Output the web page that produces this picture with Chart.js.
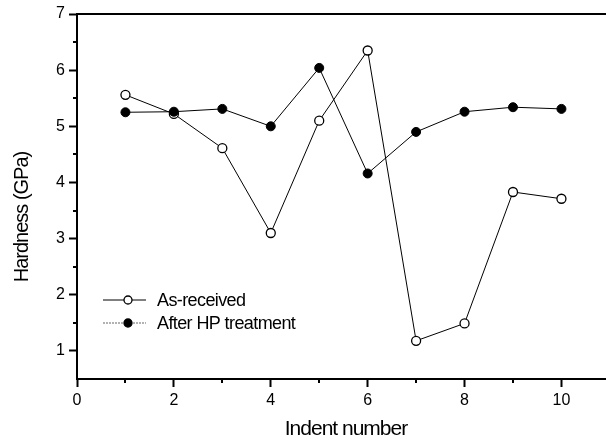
<!DOCTYPE html>
<html>
<head>
<meta charset="utf-8">
<script src="https://cdn.jsdelivr.net/npm/chart.js@4.4.1/dist/chart.umd.min.js"></script>
<style>
  html, body { margin: 0; padding: 0; background: #fff; }
  canvas { display: block; }
</style>
</head>
<body>
<canvas id="hardChart" width="606" height="443"></canvas>
<script>
// данные графика
const indents = [1, 2, 3, 4, 5, 6, 7, 8, 9, 10];
const asReceived = [5.56, 5.22, 4.61, 3.10, 5.10, 6.35, 1.18, 1.49, 3.83, 3.71];
const afterHP = [5.25, 5.26, 5.31, 5.00, 6.04, 4.16, 4.90, 5.26, 5.34, 5.31];
const xTicks = [0, 2, 4, 6, 8, 10];
const xMinor = [1, 3, 5, 7, 9];
const yTicks = [1, 2, 3, 4, 5, 6, 7];
const yMinor = [1.5, 2.5, 3.5, 4.5, 5.5, 6.5];
const seriesNames = ['As-received', 'After HP treatment'];
const xTitle = 'Indent number';
const yTitle = 'Hardness (GPa)';

const FONT = '"Liberation Sans", Arial, sans-serif';

// рамка сверху, мелкие засечки, подписи осей, легенда
const decor = {
  id: 'decor',
  afterDraw(chart) {
    const ctx = chart.ctx;
    const a = chart.chartArea;
    const xs = chart.scales.x, ys = chart.scales.y;
    ctx.save();
    ctx.strokeStyle = '#000';
    ctx.lineWidth = 2;
    ctx.beginPath();
    ctx.moveTo(a.left - 1, a.top);
    ctx.lineTo(a.right, a.top);
    ctx.stroke();

    ctx.lineWidth = 2;
    xMinor.forEach(v => {
      const px = Math.round(xs.getPixelForValue(v));
      ctx.beginPath();
      ctx.moveTo(px, a.bottom);
      ctx.lineTo(px, a.bottom + 4);
      ctx.stroke();
    });
    yMinor.forEach(v => {
      const py = Math.round(ys.getPixelForValue(v));
      ctx.beginPath();
      ctx.moveTo(a.left, py);
      ctx.lineTo(a.left - 4, py);
      ctx.stroke();
    });

    ctx.fillStyle = '#000';
    ctx.textBaseline = 'middle';
    ctx.textAlign = 'center';
    ctx.font = '21px ' + FONT;
    ctx.letterSpacing = '-1px';
    ctx.fillText(xTitle, 346, 429);
    ctx.save();
    ctx.translate(22, 217);
    ctx.rotate(-Math.PI / 2);
    ctx.font = '20px ' + FONT;
    ctx.fillText(yTitle, 0, 0);
    ctx.restore();

    // легенда
    const rows = [
      { y: 300, fill: '#fff', line: '#000', dash: [] },
      { y: 323, fill: '#000', line: '#666', dash: [2, 1] }
    ];
    ctx.font = '18px ' + FONT;
    ctx.letterSpacing = '-0.6px';
    ctx.textAlign = 'left';
    rows.forEach((r, i) => {
      ctx.strokeStyle = r.line;
      ctx.lineWidth = 1;
      ctx.setLineDash(r.dash);
      ctx.beginPath();
      ctx.moveTo(103, r.y);
      ctx.lineTo(146, r.y);
      ctx.stroke();
      ctx.setLineDash([]);
      ctx.beginPath();
      ctx.arc(128, r.y, 4, 0, Math.PI * 2);
      ctx.fillStyle = r.fill;
      ctx.fill();
      ctx.strokeStyle = '#000';
      ctx.lineWidth = 1.3;
      ctx.stroke();
      ctx.fillStyle = '#000';
      ctx.fillText(seriesNames[i], 157, r.y + 1);
    });
    ctx.restore();
  }
};

const config = {
  type: 'line',
  data: {
    datasets: [{
      label: seriesNames[0],
      data: indents.map((x, i) => ({ x: x, y: asReceived[i] })),
      borderColor: '#000',
      borderWidth: 1,
      pointStyle: 'circle',
      pointRadius: 4.5,
      pointBackgroundColor: '#fff',
      pointBorderColor: '#000',
      pointBorderWidth: 1.3,
      order: 1
    }, {
      label: seriesNames[1],
      data: indents.map((x, i) => ({ x: x, y: afterHP[i] })),
      borderColor: '#000',
      borderWidth: 1,
      pointStyle: 'circle',
      pointRadius: 4.5,
      pointBackgroundColor: '#000',
      pointBorderColor: '#000',
      pointBorderWidth: 1,
      order: 0
    }]
  },
  options: {
    responsive: false,
    animation: false,
    layout: { autoPadding: false, padding: { top: 14, right: 0, left: 0, bottom: 0 } },
    plugins: { legend: { display: false }, tooltip: { enabled: false } },
    scales: {
      x: {
        type: 'linear',
        min: 0,
        max: 10.92,
        afterBuildTicks: s => { s.ticks = xTicks.map(v => ({ value: v })); },
        afterFit: s => { s.height = 64; s.paddingLeft = 0; s.paddingRight = 0; },
        border: { color: '#000', width: 2 },
        grid: { display: true, drawOnChartArea: false, drawTicks: true, tickLength: 8, color: '#000', tickWidth: 2 },
        ticks: { color: '#000', padding: 4, font: { family: FONT, size: 16 }, maxRotation: 0 }
      },
      y: {
        type: 'linear',
        min: 0.5,
        max: 7,
        afterBuildTicks: s => { s.ticks = yTicks.map(v => ({ value: v })); },
        afterFit: s => { s.width = 77; s.paddingTop = 0; s.paddingBottom = 0; },
        border: { color: '#000', width: 2 },
        grid: { display: true, drawOnChartArea: false, drawTicks: true, tickLength: 8, color: '#000', tickWidth: 2 },
        ticks: { color: '#000', padding: 4, font: { family: FONT, size: 16 } }
      }
    }
  },
  plugins: [decor]
};

const hardChart = new Chart(document.getElementById('hardChart'), config);
</script>
</body>
</html>
